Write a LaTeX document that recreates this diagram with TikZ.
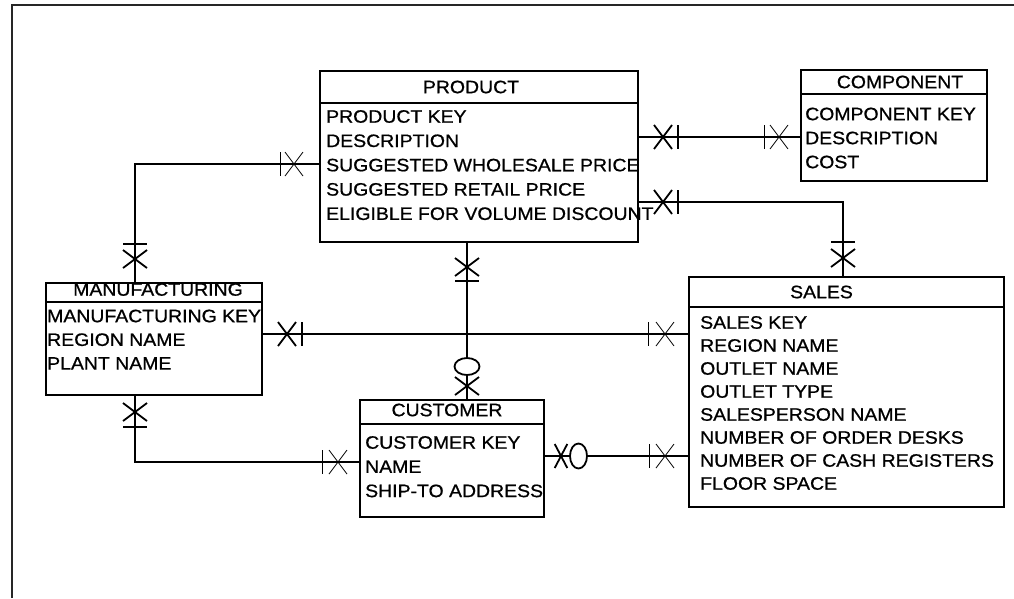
\documentclass[tikz,border=0pt]{standalone}
\usepackage{fontspec}
\setmainfont{Liberation Sans}[FakeStretch=1.08, FakeBold=0.8]
\usetikzlibrary{calc}

\newcommand{\erfont}{\fontsize{18}{22}\selectfont}

\tikzset{
  entity/.style={draw, line width=1.6pt, anchor=north west, inner sep=0pt, outer sep=0pt},
  title/.style={inner sep=0pt, font=\erfont},
  attr/.style={anchor=west, inner sep=0pt, font=\erfont},
  link/.style={line width=1.2pt},
  heavy/.style={line width=1.8pt},
  light/.style={line width=0.8pt},
  crossmark/.pic={\draw (-9,-12) -- (9,12) (-9,12) -- (9,-12);},
  barmark/.pic={\draw (0,-12) -- (0,12);},
  ringmark/.pic={\filldraw[fill=white] (0,0) ellipse [x radius=8.5, y radius=12.5];}
}

\begin{document}
\begin{tikzpicture}[x=1pt, y=-1pt]
  \useasboundingbox (0,0) rectangle (1014,598);
  \draw[line width=1.8pt, black!85] (12,598) -- (12,5) -- (1014,5);

  % entities
  \node[entity, minimum width=318pt, minimum height=171pt] (product) at (320,71) {};
  \node[entity, minimum width=186pt, minimum height=111pt] (component) at (801,70) {};
  \node[entity, minimum width=216pt, minimum height=112pt] (manufacturing) at (46,283) {};
  \node[entity, minimum width=315pt, minimum height=230pt] (sales) at (689,277) {};
  \node[entity, minimum width=184pt, minimum height=117pt] (customer) at (360,400) {};

  \node[title] (product-title) at ($(product.north)+(-8,16)$) {PRODUCT};
  \node[title] (component-title) at ($(component.north)+(6,12)$) {COMPONENT};
  \node[title] (manufacturing-title) at ($(manufacturing.north)+(4,6.5)$) {MANUFACTURING};
  \node[title] (sales-title) at ($(sales.north)+(-25,15)$) {SALES};
  \node[title] (customer-title) at ($(customer.north)+(-5,10)$) {CUSTOMER};

  \draw[line width=1.2pt] (product.west |- 0,103) -- (product.east |- 0,103);
  \draw[line width=1.2pt] (component.west |- 0,94) -- (component.east |- 0,94);
  \draw[line width=1.2pt] (manufacturing.west |- 0,302) -- (manufacturing.east |- 0,302);
  \draw[line width=1.2pt] (sales.west |- 0,307) -- (sales.east |- 0,307);
  \draw[line width=1.2pt] (customer.west |- 0,424) -- (customer.east |- 0,424);

  % attributes
  \foreach \txt [count=\i from 0] in {PRODUCT KEY, DESCRIPTION, SUGGESTED WHOLESALE PRICE,
      SUGGESTED RETAIL PRICE, ELIGIBLE FOR VOLUME DISCOUNT}
    \node[attr] (product-\i) at (326,116.5+24.3*\i) {\txt};
  \foreach \txt [count=\i from 0] in {COMPONENT KEY, DESCRIPTION, COST}
    \node[attr] (component-\i) at (805,114+24*\i) {\txt};
  \foreach \txt [count=\i from 0] in {MANUFACTURING KEY, REGION NAME, PLANT NAME}
    \node[attr] (manufacturing-\i) at (47,316+23.7*\i) {\txt};
  \foreach \txt [count=\i from 0] in {SALES KEY, REGION NAME, OUTLET NAME, OUTLET TYPE,
      SALESPERSON NAME, NUMBER OF ORDER DESKS, NUMBER OF CASH REGISTERS, FLOOR SPACE}
    \node[attr] (sales-\i) at (700,322.5+23*\i) {\txt};
  \foreach \txt [count=\i from 0] in {CUSTOMER KEY, NAME, SHIP-TO ADDRESS}
    \node[attr] (customer-\i) at (365,442.5+24.2*\i) {\txt};

  % relationships
  \coordinate (ps) at (843,202);
  \coordinate (pm) at (135,164);
  \coordinate (mc) at (135,462);
  \draw[link] (product.east |- 0,137) -- (component.west |- 0,137);
  \draw[link] (product.east |- ps) -- (ps) -- (ps |- sales.north);
  \draw[link] (product.west |- pm) -- (pm) -- (pm |- manufacturing.north);
  \draw[link] (manufacturing.east |- 0,334) -- (sales.west |- 0,334);
  \draw[link] (product.south -| 467,0) -- (customer.north -| 467,0);
  \draw[link] (manufacturing.south -| mc) -- (mc) -- (customer.west |- mc);
  \draw[link] (customer.east |- 0,456) -- (sales.west |- 0,456);

  % cardinality marks
  \pic[heavy] at (663,137) {crossmark};
  \pic[heavy] at (678,137) {barmark};
  \pic[light] at (764,137) {barmark};
  \pic[light] at (779,137) {crossmark};

  \pic[heavy] at (663,202) {crossmark};
  \pic[heavy] at (678,202) {barmark};
  \pic[heavy, rotate=90] at (843,242) {barmark};
  \pic[heavy, rotate=90] at (843,258) {crossmark};

  \pic[light] at (280,164) {barmark};
  \pic[light] at (294,164) {crossmark};
  \pic[heavy, rotate=90] at (135,244) {barmark};
  \pic[heavy, rotate=90] at (135,259) {crossmark};

  \pic[heavy] at (287,334) {crossmark};
  \pic[heavy] at (302,334) {barmark};
  \pic[light] at (648,334) {barmark};
  \pic[light] at (665,334) {crossmark};

  \pic[heavy, rotate=90] at (467,267) {crossmark};
  \pic[heavy, rotate=90] at (467,281) {barmark};
  \pic[heavy, rotate=90] at (467,366.5) {ringmark};
  \pic[heavy, rotate=90] at (467,386) {crossmark};

  \pic[heavy, rotate=90] at (135,412) {crossmark};
  \pic[heavy, rotate=90] at (135,427) {barmark};
  \pic[light] at (322,462) {barmark};
  \pic[light] at (338,462) {crossmark};

  \pic[heavy, xscale=0.7] at (561,456) {crossmark};
  \pic[heavy] at (578.5,456) {ringmark};
  \pic[light] at (649,456) {barmark};
  \pic[light] at (665,456) {crossmark};
\end{tikzpicture}
\end{document}
